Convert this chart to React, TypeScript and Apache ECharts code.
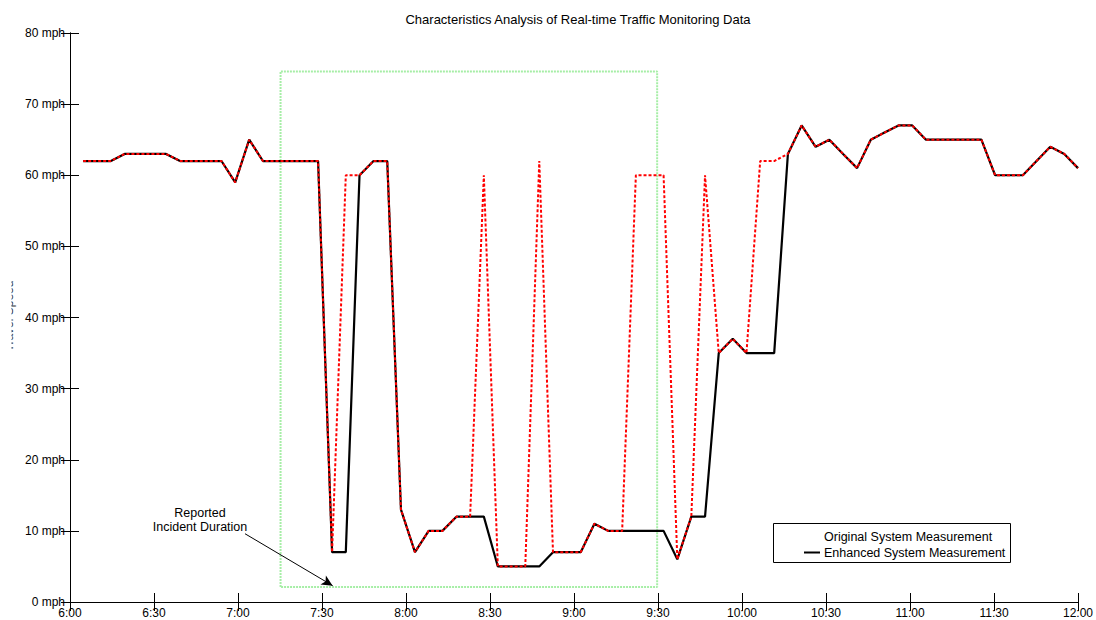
import React, { useEffect, useRef } from "react";
import * as echarts from "echarts";

// minutes after 6:00 for each sample
const times = [
  4.7, 9.7, 14.6, 19.5, 24.5, 29.4, 34.3, 39.3, 44.2, 49.1,
  54.1, 59.0, 64.0, 68.9, 73.8, 78.8, 83.7, 88.6, 93.6, 98.5,
  103.4, 108.4, 113.3, 118.2, 123.2, 128.1, 133.0, 138.0, 142.9, 147.8,
  152.8, 157.7, 162.6, 167.6, 172.5, 177.4, 182.4, 187.3, 192.2, 197.2,
  202.1, 207.1, 212.0, 216.9, 221.9, 226.8, 231.7, 236.7, 241.6, 246.5,
  251.5, 256.4, 261.3, 266.3, 271.2, 276.1, 281.1, 286.0, 290.9, 295.9,
  300.8, 305.7, 310.7, 315.6, 320.5, 325.5, 330.4, 335.3, 340.3, 345.2,
  350.1, 355.1, 360.0,
];

const enhancedSpeed = [
  62, 62, 62, 63, 63, 63, 63, 62, 62, 62,
  62, 59, 65, 62, 62, 62, 62, 62, 7, 7,
  60, 62, 62, 13, 7, 10, 10, 12, 12, 12,
  5, 5, 5, 5, 7, 7, 7, 11, 10, 10,
  10, 10, 10, 6, 12, 12, 35, 37, 35, 35,
  35, 63, 67, 64, 65, 63, 61, 65, 66, 67,
  67, 65, 65, 65, 65, 65, 60, 60, 60, 62,
  64, 63, 61,
];

const originalSpeed = [
  62, 62, 62, 63, 63, 63, 63, 62, 62, 62,
  62, 59, 65, 62, 62, 62, 62, 62, 7, 60,
  60, 62, 62, 13, 7, 10, 10, 12, 12, 60,
  5, 5, 5, 62, 7, 7, 7, 11, 10, 10,
  60, 60, 60, 6, 12, 60, 35, 37, 35, 62,
  62, 63, 67, 64, 65, 63, 61, 65, 66, 67,
  67, 65, 65, 65, 65, 65, 60, 60, 60, 62,
  64, 63, 61,
];

const xTicks = ["6:00", "6:30", "7:00", "7:30", "8:00", "8:30", "9:00", "9:30", "10:00", "10:30", "11:00", "11:30", "12:00"];
const seriesNames = ["Original System Measurement", "Enhanced System Measurement"];

// reported incident window (minutes after 6:00) and box extent (mph)
const incidentStart = 75.2;
const incidentEnd = 209.7;
const incidentLow = 2.1;
const incidentHigh = 74.6;

// annotation arrow (minutes, mph)
const arrowFrom = [62.5, 9.6];
const arrowTo = [93.8, 2.3];

const FONT = "'Liberation Sans', Arial, Helvetica, sans-serif";

export default function App() {
  const ref = useRef<HTMLDivElement>(null);

  useEffect(() => {
    document.body.style.margin = "0";
    const chart = echarts.init(ref.current!, null, { renderer: "svg" });

    const zip = (ys: number[]) => times.map((t, i) => [t, ys[i]]);
    const boxData = [
      [incidentStart, incidentLow],
      [incidentStart, incidentHigh],
      [incidentEnd, incidentHigh],
      [incidentEnd, incidentLow],
      [incidentStart, incidentLow],
    ];

    const tickStyle = { show: true, inside: true, length: 9, lineStyle: { color: "#000", width: 1 } };
    const lineAxis = { show: true, lineStyle: { color: "#000", width: 1 } };

    chart.setOption({
      animation: false,
      backgroundColor: "#fff",
      textStyle: { fontFamily: FONT },
      grid: { left: 70, right: 16, top: 33, bottom: 18, containLabel: false },
      xAxis: [
        {
          type: "value",
          min: 0,
          max: 360,
          interval: 30,
          position: "bottom",
          axisLine: lineAxis,
          axisTick: tickStyle,
          splitLine: { show: false },
          axisLabel: {
            color: "#000",
            fontSize: 12,
            fontFamily: FONT,
            margin: 5,
            formatter: (v: number) => xTicks[Math.round(v / 30)] ?? "",
          },
        },
        {
          type: "value",
          min: 0,
          max: 360,
          interval: 30,
          position: "top",
          axisLine: lineAxis,
          axisTick: tickStyle,
          splitLine: { show: false },
          axisLabel: { show: false },
        },
      ],
      yAxis: [
        {
          type: "value",
          min: 0,
          max: 80,
          interval: 10,
          position: "left",
          axisLine: lineAxis,
          axisTick: tickStyle,
          splitLine: { show: false },
          axisLabel: { color: "#000", fontSize: 12, fontFamily: FONT, margin: 5, formatter: "{value} mph" },
        },
        {
          type: "value",
          min: 0,
          max: 80,
          interval: 10,
          position: "right",
          axisLine: lineAxis,
          axisTick: tickStyle,
          splitLine: { show: false },
          axisLabel: { show: false },
        },
      ],
      series: [
        {
          name: "Reported Incident Duration",
          type: "line",
          data: boxData,
          symbol: "none",
          silent: true,
          z: 1,
          lineStyle: { color: "#a6eea6", width: 2, type: [2, 1] },
          markLine: {
            silent: true,
            symbol: ["none", "arrow"],
            symbolSize: [8, 11],
            label: { show: false },
            lineStyle: { color: "#000", width: 1, type: "solid" },
            data: [[{ coord: arrowFrom }, { coord: arrowTo }]],
          },
        },
        {
          name: seriesNames[1],
          type: "line",
          data: zip(enhancedSpeed),
          symbol: "none",
          z: 2,
          lineStyle: { color: "#000", width: 2.2 },
        },
        {
          name: seriesNames[0],
          type: "line",
          data: zip(originalSpeed),
          symbol: "none",
          z: 3,
          lineStyle: { color: "#ff0000", width: 2, type: [3, 2] },
        },
      ],
      graphic: [
        {
          type: "text",
          x: 578,
          y: 19,
          style: {
            text: "Characteristics Analysis of Real-time Traffic Monitoring Data",
            font: `13px ${FONT}`,
            fill: "#000",
            textAlign: "center",
            textVerticalAlign: "middle",
          },
        },
        {
          type: "text",
          x: 9,
          y: 316,
          rotation: Math.PI / 2,
          style: {
            text: "Travel Speed",
            font: `12px ${FONT}`,
            fill: "#333",
            textAlign: "center",
            textVerticalAlign: "middle",
          },
        },
        {
          type: "rect",
          shape: { x: 0, y: 270, width: 11.5, height: 95 },
          style: { fill: "#fff" },
          z: 100,
        },
        {
          type: "text",
          x: 200,
          y: 520,
          style: {
            text: "Reported\nIncident Duration",
            font: `12.5px ${FONT}`,
            lineHeight: 14.6,
            fill: "#000",
            textAlign: "center",
            textVerticalAlign: "middle",
          },
        },
        {
          type: "group",
          z: 50,
          children: [
            {
              type: "rect",
              shape: { x: 773.5, y: 523.5, width: 237, height: 39 },
              style: { fill: "#fff", stroke: "#000", lineWidth: 1 },
            },
            {
              type: "text",
              x: 824,
              y: 536.5,
              style: { text: seriesNames[0], font: `12.5px ${FONT}`, fill: "#000", textVerticalAlign: "middle" },
            },
            {
              type: "line",
              shape: { x1: 804, y1: 552.5, x2: 820, y2: 552.5 },
              style: { stroke: "#000", lineWidth: 2 },
            },
            {
              type: "text",
              x: 824,
              y: 552.5,
              style: { text: seriesNames[1], font: `12.5px ${FONT}`, fill: "#000", textVerticalAlign: "middle" },
            },
          ],
        },
      ],
    });

    return () => chart.dispose();
  }, []);

  return <div ref={ref} style={{ width: 1096, height: 620 }} />;
}
